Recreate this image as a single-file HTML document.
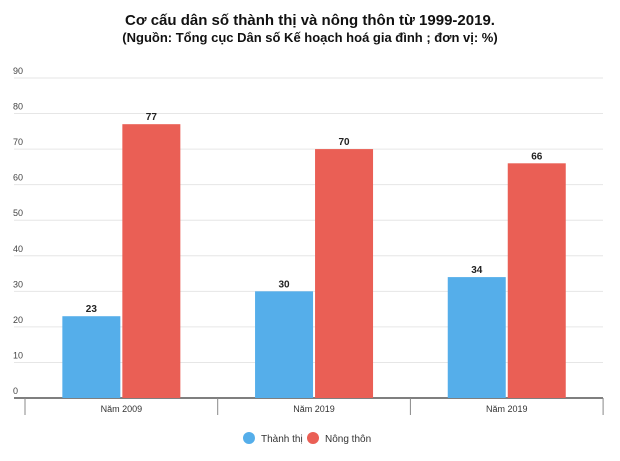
<!DOCTYPE html>
<html><head><meta charset="utf-8"><style>
body{margin:0;background:#fff;width:620px;height:456px;overflow:hidden;font-family:"Liberation Sans",sans-serif}
</style></head><body>
<svg width="620" height="456">
<text x="310" y="25" text-anchor="middle" font-size="15" font-weight="bold" fill="#111">Cơ cấu dân số thành thị và nông thôn từ 1999-2019.</text>
<text x="310" y="42" text-anchor="middle" font-size="13" font-weight="bold" fill="#111">(Nguồn: Tổng cục Dân số Kế hoạch hoá gia đình ; đơn vị: %)</text>
<g id="grid"></g><g id="bars"></g>
<g>
<circle cx="249" cy="438" r="6" fill="#55aeea"/>
<text x="261" y="442" font-size="10" fill="#333">Thành thị</text>
<circle cx="313" cy="438" r="6" fill="#ea5f55"/>
<text x="325" y="442" font-size="10" fill="#333">Nông thôn</text>
</g>
</svg>
<script>
const categories=["Năm 2009","Năm 2019","Năm 2019"];
const urban=[23,30,34];
const rural=[77,70,66];
const ticks=[0,10,20,30,40,50,60,70,80,90];
const NS="http://www.w3.org/2000/svg";
const y=v=>398-v*3.556;
const x0=25,gw=192.7;
function el(t,a,p){const e=document.createElementNS(NS,t);for(const k in a)e.setAttribute(k,a[k]);p.appendChild(e);return e;}
const g=document.getElementById('grid'),b=document.getElementById('bars');
ticks.forEach(t=>{
 if(t>0){const l=el('line',{x1:14,x2:603,y1:y(t),y2:y(t),stroke:'#e6e6e6','stroke-width':1},g);
 
 }
 const tx=el('text',{x:13,y:y(t)-4,'font-size':9,fill:'#444'},g);tx.textContent=t;
 
 
});
const ax=el('line',{x1:14,x2:603,y1:398,y2:398,stroke:'#555','stroke-width':1.5},g);


for(let i=0;i<=categories.length;i++){const t=el('line',{x1:x0+i*gw,x2:x0+i*gw,y1:398,y2:415,stroke:'#888'},g);
 
 }
categories.forEach((c,i)=>{
 const cx=x0+i*gw+gw/2;
 const t=el('text',{x:cx,y:412,'text-anchor':'middle','font-size':9,fill:'#333'},g);t.textContent=c;
 
 
 [[urban[i],'#55aeea',cx-59,'urban'],[rural[i],'#ea5f55',cx+1,'rural']].forEach(([v,col,bx,n])=>{
  const r=el('rect',{x:bx,y:y(v),width:58,height:398-y(v),fill:col},b);
  
  
  const l=el('text',{x:bx+29,y:y(v)-4,'text-anchor':'middle','font-size':10,'font-weight':'bold',fill:'#222'},b);l.textContent=v;
  
  
 });
});
</script>
</body></html>
